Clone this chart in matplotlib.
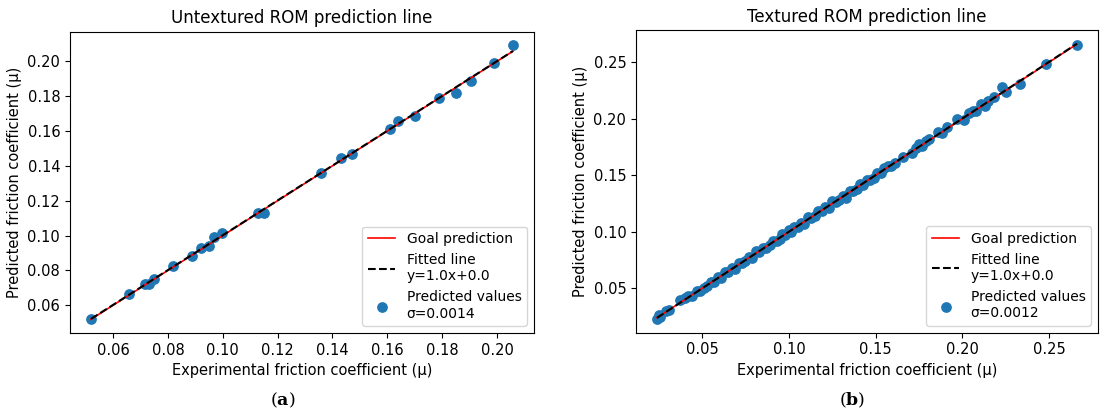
import numpy as np
import matplotlib.pyplot as plt

# untextured ROM: experimental vs predicted friction coefficient
untex_exp = [0.0519, 0.0659, 0.0717, 0.0730, 0.0749, 0.0819, 0.0888, 0.0920,
             0.0951, 0.0968, 0.0996, 0.1130, 0.1149, 0.1359, 0.1430, 0.1470,
             0.1610, 0.1638, 0.1700, 0.1788, 0.1849, 0.1907, 0.1989, 0.2058]
untex_pred = [0.0523, 0.0662, 0.0721, 0.0719, 0.0748, 0.0827, 0.0882, 0.0931,
              0.0939, 0.0989, 0.1015, 0.1131, 0.1131, 0.1358, 0.1445, 0.1470,
              0.1612, 0.1660, 0.1688, 0.1790, 0.1819, 0.1890, 0.1990, 0.2092]

# textured ROM
tex_exp = [0.024, 0.025, 0.026, 0.029, 0.031, 0.037, 0.040, 0.042, 0.044, 0.047,
           0.049, 0.051, 0.053, 0.055, 0.057, 0.059, 0.061, 0.063, 0.065, 0.067,
           0.069, 0.071, 0.073, 0.075, 0.077, 0.079, 0.081, 0.083, 0.085, 0.087,
           0.089, 0.091, 0.093, 0.095, 0.096, 0.098, 0.100, 0.101, 0.103, 0.105,
           0.107, 0.109, 0.111, 0.113, 0.115, 0.117, 0.119, 0.121, 0.123, 0.125,
           0.127, 0.129, 0.131, 0.133, 0.135, 0.137, 0.139, 0.141, 0.143, 0.145,
           0.147, 0.149, 0.151, 0.153, 0.155, 0.157, 0.159, 0.161, 0.166, 0.171,
           0.173, 0.175, 0.177, 0.179, 0.181, 0.186, 0.188, 0.191, 0.197, 0.201,
           0.204, 0.206, 0.208, 0.211, 0.213, 0.215, 0.218, 0.223, 0.225, 0.233,
           0.248, 0.266]
tex_pred = [0.023, 0.026, 0.025, 0.030, 0.031, 0.040, 0.041, 0.043, 0.043, 0.048,
            0.048, 0.050, 0.052, 0.056, 0.056, 0.060, 0.059, 0.064, 0.064, 0.068,
            0.067, 0.072, 0.072, 0.074, 0.078, 0.077, 0.083, 0.082, 0.086, 0.086,
            0.088, 0.092, 0.092, 0.094, 0.098, 0.097, 0.102, 0.100, 0.104, 0.104,
            0.108, 0.107, 0.113, 0.112, 0.114, 0.118, 0.118, 0.122, 0.121, 0.127,
            0.126, 0.128, 0.132, 0.130, 0.136, 0.136, 0.138, 0.142, 0.141, 0.146,
            0.146, 0.148, 0.152, 0.152, 0.156, 0.158, 0.158, 0.161, 0.166, 0.170,
            0.174, 0.178, 0.176, 0.180, 0.182, 0.188, 0.187, 0.193, 0.200, 0.199,
            0.205, 0.207, 0.207, 0.213, 0.211, 0.216, 0.219, 0.228, 0.224, 0.231,
            0.248, 0.265]

panels = [
    ('Untextured ROM prediction line', untex_exp, untex_pred, 'σ=0.0014', 'a'),
    ('Textured ROM prediction line', tex_exp, tex_pred, 'σ=0.0012', 'b'),
]

plt.rcParams['font.size'] = 10.5
plt.rcParams['mathtext.fontset'] = 'dejavuserif'

fig = plt.figure(figsize=(11.09, 4.16), dpi=100)
boxes = [[0.063, 0.1995, 0.4185, 0.7245], [0.5735, 0.2005, 0.4165, 0.7275]]
cap_x = [0.255, 0.768]

for (title, xs, ys, sig, cap), box, cx in zip(panels, boxes, cap_x):
    ax = fig.add_axes(box)
    xs = np.array(xs)
    ys = np.array(ys)
    xl = np.array([xs.min(), xs.max()])
    m, b = np.polyfit(xs, ys, 1)
    ax.scatter(xs, ys, s=45, color='tab:blue', label='Predicted values\n' + sig, zorder=2)
    ax.plot(xl, xl, color='red', lw=1.2, label='Goal prediction', zorder=3)
    ax.plot(xl, m * xl + b, 'k--', lw=1.5,
            label=f'Fitted line\ny={m:.1f}x+{abs(b):.1f}', zorder=4)
    ax.set_title(title, fontsize=12)
    ax.set_xlabel('Experimental friction coefficient (μ)')
    ax.set_ylabel('Predicted friction coefficient (μ)')
    h, l = ax.get_legend_handles_labels()
    ax.legend([h[1], h[2], h[0]], [l[1], l[2], l[0]], loc='lower right', fontsize=10)
    fig.text(cx, 0.025, '($\\mathbf{' + cap + '}$)', fontsize=12.5,
             family='DejaVu Serif', ha='center')

fig.savefig('out.png', dpi=100)
